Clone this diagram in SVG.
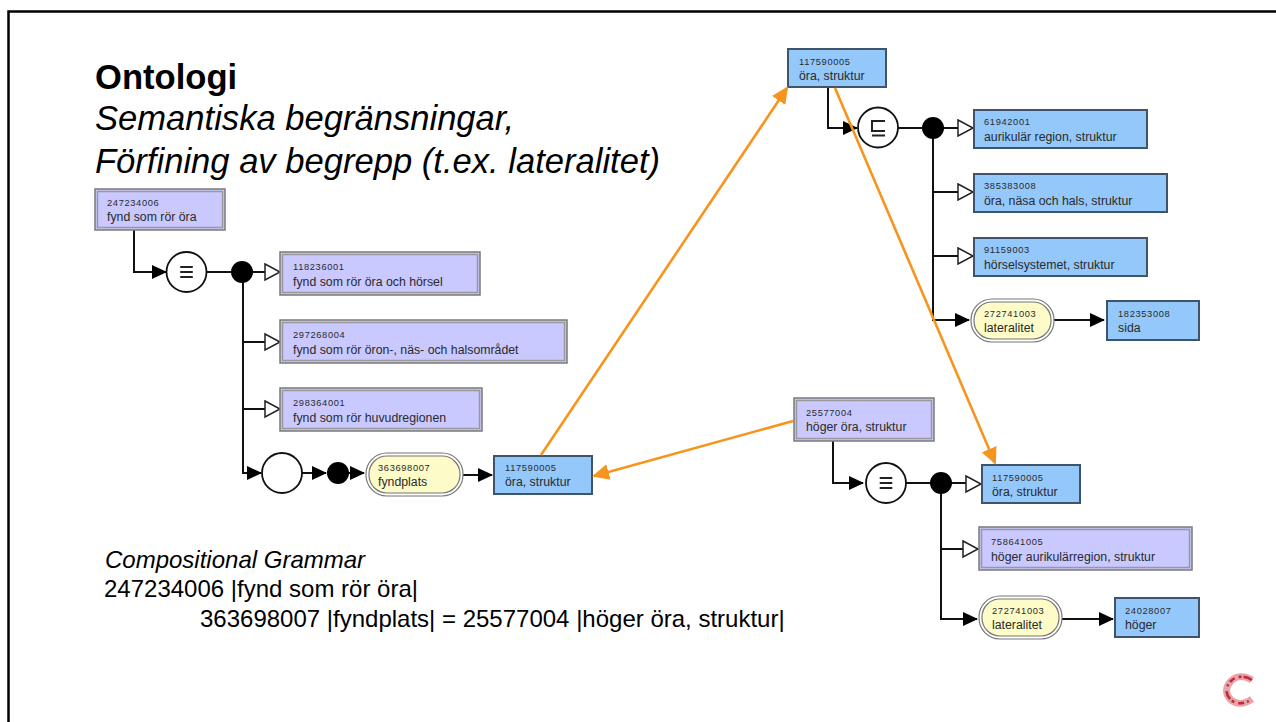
<svg xmlns="http://www.w3.org/2000/svg" width="1276" height="722" viewBox="0 0 1276 722">
<style>
text{font-family:"Liberation Sans",Arial,sans-serif;fill:#000}
.id{font-size:9.3px;letter-spacing:.65px;fill:#2a2a2a}
.lb{font-size:12.300px;fill:#2a2a2a}
.b rect{fill:#94c8fb;stroke:#3f5468;stroke-width:2}
.p .o{fill:#c9c9ff;stroke:#7a7a7a;stroke-width:1.500}
.p .i{fill:#c9c9ff;stroke:#999;stroke-width:1.500}
.y .o{fill:#fff;stroke:#777;stroke-width:1.200}
.y .i{fill:#fdfcc8;stroke:#777;stroke-width:1.200}
.l{fill:none;stroke:#111;stroke-width:2}
.or{fill:none;stroke:#f7941d;stroke-width:2.600}
.c{fill:#fff;stroke:#111;stroke-width:1.800}
.d{fill:#000}
.t{fill:#fff;stroke:#222;stroke-width:1.500}
.h{font-size:34.600px;font-weight:700}
.h2{font-size:34.600px;font-style:italic}
.s{font-size:24px}
</style>
<defs>
<marker id="fa" markerUnits="userSpaceOnUse" markerWidth="15" markerHeight="15" refX="14" refY="7.500" orient="auto"><path d="M0 0.500L15 7.500L0 14.500Z" fill="#000"/></marker>
<marker id="oa" markerUnits="userSpaceOnUse" markerWidth="18" markerHeight="18" refX="15" refY="9" orient="auto"><path d="M0 1L17 9L0 17L0 9Z" fill="#f7941d"/></marker>
<symbol id="eq" viewBox="0 0 20 20"><path d="M3 4.500H17M3 10H17M3 15.500H17" stroke="#222" stroke-width="2.200" fill="none"/></symbol>
</defs>
<path d="M8.500 722V11.500H1276" fill="none" stroke="#000" stroke-width="2.500"/>
<g id="title">
<text class="h" x="95" y="89">Ontologi</text>
<text class="h2" x="95" y="130">Semantiska begränsningar,</text>
<text class="h2" x="95" y="173">Förfining av begrepp (t.ex. lateralitet)</text>
</g>
<g id="grammar">
<text class="s" x="105" y="568" font-style="italic">Compositional Grammar</text>
<text class="s" x="104" y="597">247234006 |fynd som rör öra|</text>
<text class="s" x="200" y="627">363698007 |fyndplats| = 25577004 |höger öra, struktur|</text>
</g>
<g id="connectors">
<path class="l" d="M134 230V272H166" marker-end="url(#fa)"/>
<path class="l" d="M207 272H232"/>
<path class="l" d="M242 272H266"/>
<path class="l" d="M243 280V473H261" marker-end="url(#fa)"/>
<path class="l" d="M243 342H266"/>
<path class="l" d="M243 409H266"/>
<path class="l" d="M302 473H326" marker-end="url(#fa)"/>
<path class="l" d="M348 473H364" marker-end="url(#fa)"/>
<path class="l" d="M462 475H492" marker-end="url(#fa)"/>
<path class="l" d="M828 88V128H857" marker-end="url(#fa)"/>
<path class="l" d="M898 128H925"/>
<path class="l" d="M933 128H958"/>
<path class="l" d="M933 136V320H969" marker-end="url(#fa)"/>
<path class="l" d="M933 192H958"/>
<path class="l" d="M933 256H958"/>
<path class="l" d="M1054 320H1104" marker-end="url(#fa)"/>
<path class="l" d="M833 441V483H863" marker-end="url(#fa)"/>
<path class="l" d="M905 483H932"/>
<path class="l" d="M941 483H966"/>
<path class="l" d="M941 491V619H977" marker-end="url(#fa)"/>
<path class="l" d="M941 549H963"/>
<path class="l" d="M1062 619H1113" marker-end="url(#fa)"/>
<path class="t" d="M265 264L280 272L265 280Z"/>
<path class="t" d="M265 334L280 342L265 350Z"/>
<path class="t" d="M265 401L280 409L265 417Z"/>
<path class="t" d="M958 120L973 128L958 136Z"/>
<path class="t" d="M958 184L973 192L958 200Z"/>
<path class="t" d="M958 248L973 256L958 264Z"/>
<path class="t" d="M966 476L981 484L966 492Z"/>
<path class="t" d="M963 541L978 549L963 557Z"/>
</g>
<g id="n247234006" class="p"><rect class="o" x="95" y="189" width="130" height="41"/><rect class="i" x="97.500" y="191.500" width="125" height="36"/><text class="id" x="107" y="206">247234006</text><text class="lb" x="107" y="221">fynd som rör öra</text></g>
<g id="equiv1"><circle class="c" cx="186.500" cy="272" r="20"/><use href="#eq" x="177.500" y="263" width="18" height="18"/></g>
<circle id="dot1" class="d" cx="242" cy="272" r="11"/>
<g id="n118236001" class="p"><rect class="o" x="280" y="252" width="200" height="43"/><rect class="i" x="282.500" y="254.500" width="195" height="38"/><text class="id" x="293" y="270">118236001</text><text class="lb" x="293" y="286">fynd som rör öra och hörsel</text></g>
<g id="n297268004" class="p"><rect class="o" x="280" y="320" width="287" height="43"/><rect class="i" x="282.500" y="322.500" width="282" height="38"/><text class="id" x="293" y="338">297268004</text><text class="lb" x="293" y="354">fynd som rör öron-, näs- och halsområdet</text></g>
<g id="n298364001" class="p"><rect class="o" x="280" y="388" width="202" height="43"/><rect class="i" x="282.500" y="390.500" width="197" height="38"/><text class="id" x="293" y="406">298364001</text><text class="lb" x="293" y="422">fynd som rör huvudregionen</text></g>
<circle id="role-group" class="c" cx="282" cy="473" r="20"/>
<circle id="dot2" class="d" cx="338" cy="473" r="11"/>
<g id="n363698007" class="y"><rect class="o" x="366" y="453" width="97" height="43" rx="21"/><rect class="i" x="369" y="456" width="91" height="37" rx="18"/><text class="id" x="378" y="471">363698007</text><text class="lb" x="378" y="486">fyndplats</text></g>
<g id="n117590005a" class="b"><rect x="494" y="456" width="98" height="38"/><text class="id" x="505" y="471">117590005</text><text class="lb" x="505" y="486">öra, struktur</text></g>
<g id="n117590005b" class="b"><rect x="788" y="49" width="98" height="38"/><text class="id" x="799" y="65">117590005</text><text class="lb" x="799" y="80">öra, struktur</text></g>
<g id="subsumes"><circle class="c" cx="878" cy="127.500" r="20"/><path d="M885 121H872V131H885M872 135.500H885" fill="none" stroke="#222" stroke-width="2"/></g>
<circle id="dot3" class="d" cx="933" cy="128" r="11"/>
<g id="n61942001" class="b"><rect x="974" y="110" width="173" height="38"/><text class="id" x="984" y="125">61942001</text><text class="lb" x="984" y="141">aurikulär region, struktur</text></g>
<g id="n385383008" class="b"><rect x="974" y="174" width="193" height="38"/><text class="id" x="984" y="189">385383008</text><text class="lb" x="984" y="205">öra, näsa och hals, struktur</text></g>
<g id="n91159003" class="b"><rect x="974" y="238" width="173" height="38"/><text class="id" x="984" y="253">91159003</text><text class="lb" x="984" y="269">hörselsystemet, struktur</text></g>
<g id="n272741003a" class="y"><rect class="o" x="971" y="299" width="83" height="43" rx="21"/><rect class="i" x="974" y="302" width="77" height="37" rx="18"/><text class="id" x="984" y="317">272741003</text><text class="lb" x="984" y="332">lateralitet</text></g>
<g id="n182353008" class="b"><rect x="1107" y="301" width="92" height="39"/><text class="id" x="1118" y="317">182353008</text><text class="lb" x="1118" y="332">sida</text></g>
<g id="n25577004" class="p"><rect class="o" x="794" y="398" width="140" height="43"/><rect class="i" x="796.500" y="400.500" width="135" height="38"/><text class="id" x="806" y="416">25577004</text><text class="lb" x="806" y="431">höger öra, struktur</text></g>
<g id="equiv2"><circle class="c" cx="886" cy="483" r="20"/><use href="#eq" x="877" y="474" width="18" height="18"/></g>
<circle id="dot4" class="d" cx="941" cy="483" r="11"/>
<g id="n117590005c" class="b"><rect x="982" y="465" width="98" height="38"/><text class="id" x="992" y="481">117590005</text><text class="lb" x="992" y="496">öra, struktur</text></g>
<g id="n758641005" class="p"><rect class="o" x="979" y="527" width="213" height="43"/><rect class="i" x="981.500" y="529.500" width="208" height="38"/><text class="id" x="991" y="545">758641005</text><text class="lb" x="991" y="561">höger aurikulärregion, struktur</text></g>
<g id="n272741003b" class="y"><rect class="o" x="979" y="596" width="83" height="43" rx="21"/><rect class="i" x="982" y="599" width="77" height="37" rx="18"/><text class="id" x="992" y="614">272741003</text><text class="lb" x="992" y="629">lateralitet</text></g>
<g id="n24028007" class="b"><rect x="1115" y="598" width="84" height="39"/><text class="id" x="1125" y="614">24028007</text><text class="lb" x="1125" y="629">höger</text></g>
<g id="orange-connectors">
<path class="or" d="M541 455L787 88" marker-end="url(#oa)"/>
<path class="or" d="M835 88L995 463" marker-end="url(#oa)"/>
<path class="or" d="M793 421L594 476" marker-end="url(#oa)"/>
</g>
<g id="logo" fill="none">
<path d="M1252 680C1244 675 1236 676 1231 681C1225 687 1225 694 1231 700C1237 705 1245 704 1252 699" stroke="#e8a3a8" stroke-width="7"/>
<path d="M1252 680C1244 675 1236 676 1231 681C1225 687 1225 694 1231 700C1237 705 1245 704 1252 699" stroke="#c02a38" stroke-width="2.500" stroke-dasharray="9 2 3 4 6 3 2 5"/>
</g>
</svg>
